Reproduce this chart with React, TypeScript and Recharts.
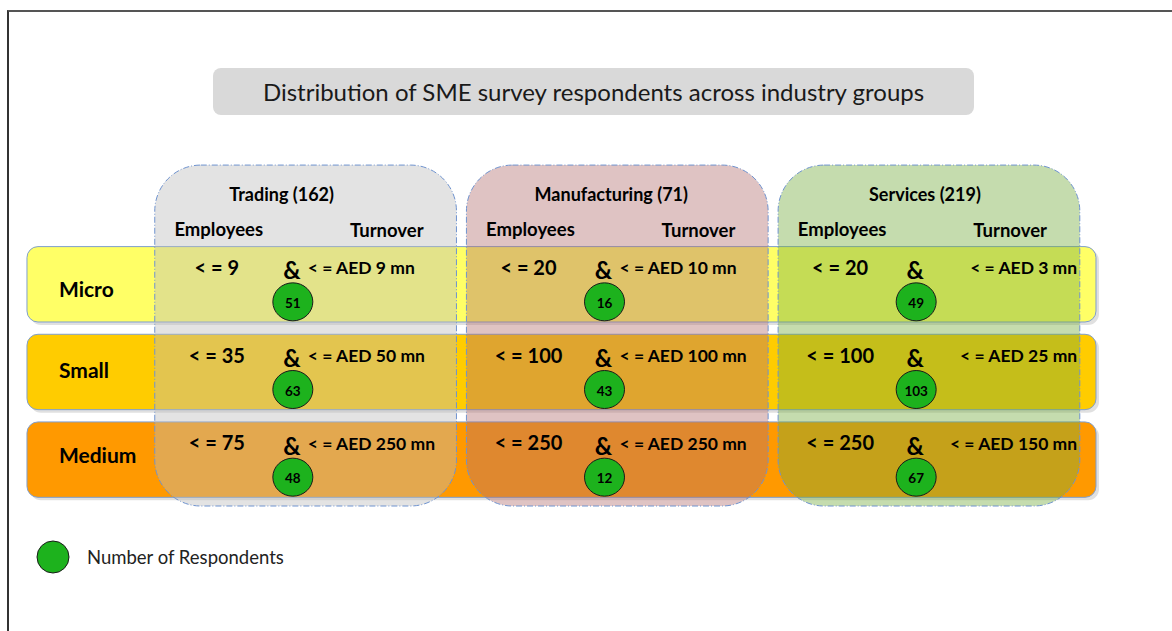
import React from 'react';
import { ComposedChart, XAxis, YAxis, Scatter, ReferenceArea, Legend } from 'recharts';

const industries = ['Trading', 'Manufacturing', 'Services'];
const industryTotals = [162, 71, 219];
const sizeClasses = ['Micro', 'Small', 'Medium'];

const tradingEmployees = [9, 35, 75];
const manufacturingEmployees = [20, 100, 250];
const servicesEmployees = [20, 100, 250];

const tradingTurnover = [9, 50, 250];
const manufacturingTurnover = [10, 100, 250];
const servicesTurnover = [3, 25, 150];

const tradingRespondents = [51, 63, 48];
const manufacturingRespondents = [16, 43, 12];
const servicesRespondents = [49, 103, 67];

const employeesByIndustry = [tradingEmployees, manufacturingEmployees, servicesEmployees];
const turnoverByIndustry = [tradingTurnover, manufacturingTurnover, servicesTurnover];
const respondentsByIndustry = [tradingRespondents, manufacturingRespondents, servicesRespondents];

const ROW_COLORS = ['#ffff66', '#ffcc00', '#ff9900'];
const COLUMN_COLORS = ['#bdbdbd', '#b37070', '#75ac3e'];
const NAME_SHIFT = [-24, -6, -4];
const LABEL_SHIFT = [4, -2, -5];
const FONT = 'Lato, "Open Sans", sans-serif';

const points = industries.flatMap((name, i) =>
  sizeClasses.map((size, j) => ({
    x: i,
    y: j,
    industry: name,
    size,
    respondents: respondentsByIndustry[i][j],
    employees: employeesByIndustry[i][j],
    turnover: turnoverByIndustry[i][j],
  }))
);

const Bubble = (props: any) => {
  const { cx, cy, payload } = props;
  const right = payload.x === 2;
  return (
    <g fontFamily={FONT} fontWeight="bold" fill="#000">
      <text x={cx - 76} y={cy - 35} textAnchor="middle" dominantBaseline="central" fontSize={20}>
        {`< = ${payload.employees}`}
      </text>
      <text x={cx - 1} y={cy - 32} textAnchor="middle" dominantBaseline="central" fontSize={24}>
        &amp;
      </text>
      <text
        x={right ? cx + 161 : cx + 15}
        y={cy - 34}
        textAnchor={right ? 'end' : 'start'}
        dominantBaseline="central"
        fontSize={17.5}
      >
        {`< = AED ${payload.turnover} mn`}
      </text>
      <ellipse cx={cx} cy={cy} rx={20} ry={19} fill="#1db21d" stroke="#1a1a1a" strokeWidth={1} />
      <text x={cx} y={cy + 1} textAnchor="middle" dominantBaseline="central" fontSize={13.5}>
        {payload.respondents}
      </text>
    </g>
  );
};

const rowShape = (j: number) => (p: any) => (
  <g>
    <rect x={p.x + 3} y={p.y + 3} width={p.width} height={p.height} rx={11} fill="#000" fillOpacity={0.12} />
    <rect x={p.x} y={p.y} width={p.width} height={p.height} rx={11} fill={ROW_COLORS[j]} stroke="#7f9fcf" strokeWidth={1} />
    <text
      x={p.x + 32}
      y={p.y + p.height / 2 + LABEL_SHIFT[j]}
      dominantBaseline="central"
      fontFamily={FONT}
      fontWeight="bold"
      fontSize={21}
    >
      {sizeClasses[j]}
    </text>
  </g>
);

const columnShape = (i: number) => (p: any) => (
  <g fontFamily={FONT} fontWeight="bold">
    <rect
      x={p.x}
      y={p.y}
      width={p.width}
      height={p.height}
      rx={46}
      fill={COLUMN_COLORS[i]}
      fillOpacity={0.42}
      stroke="#6f93cf"
      strokeWidth={1}
      strokeDasharray="6 2 1 2"
    />
    <text x={p.x + p.width / 2 + NAME_SHIFT[i]} y={p.y + 29} textAnchor="middle" dominantBaseline="central" fontSize={18}>
      {`${industries[i]} (${industryTotals[i]})`}
    </text>
    <text x={p.x + 64} y={p.y + 64} textAnchor="middle" dominantBaseline="central" fontSize={18.5}>
      Employees
    </text>
    <text x={p.x + 232} y={p.y + 65} textAnchor="middle" dominantBaseline="central" fontSize={18.5}>
      Turnover
    </text>
  </g>
);

const LegendContent = () => (
  <div style={{ display: 'flex', alignItems: 'center', fontFamily: FONT, fontSize: 18.5, color: '#222' }}>
    <svg width={36} height={36}>
      <ellipse cx={18} cy={18} rx={16} ry={16} fill="#1db21d" stroke="#1a1a1a" strokeWidth={1} />
    </svg>
    <span style={{ marginLeft: 16 }}>Number of Respondents</span>
  </div>
);

export default function App() {
  return (
    <div style={{ position: 'absolute', left: 0, top: 0, width: 1172, height: 631, background: '#fff' }}>
      <div
        style={{
          position: 'absolute',
          left: 7,
          top: 10,
          right: 0,
          bottom: 0,
          borderTop: '2px solid #555',
          borderLeft: '2px solid #333',
        }}
      />
      <div
        style={{
          position: 'absolute',
          left: 213,
          top: 68,
          width: 761,
          height: 47,
          background: '#d9d9d9',
          borderRadius: 8,
          display: 'flex',
          alignItems: 'center',
          justifyContent: 'center',
          fontFamily: FONT,
          fontSize: 24,
          color: '#1a1a1a',
          zIndex: 2,
        }}
      >
        Distribution of SME survey respondents across industry groups
      </div>
      <ComposedChart
        width={1172}
        height={631}
        data={points}
        margin={{ top: 258, right: 100, bottom: 110, left: 137 }}
      >
        <XAxis type="number" dataKey="x" domain={[-0.5, 2.5]} hide />
        <YAxis type="number" dataKey="y" domain={[-0.5, 2.5]} reversed hide />
        {sizeClasses.map((s, j) => (
          <ReferenceArea
            key={s}
            x1={-0.853}
            x2={2.577}
            y1={j - 0.63}
            y2={j + 0.23}
            ifOverflow="visible"
            shape={rowShape(j)}
          />
        ))}
        {industries.map((name, i) => (
          <ReferenceArea
            key={name}
            x1={i - 0.443}
            x2={i + 0.525}
            y1={-1.56}
            y2={2.329}
            ifOverflow="visible"
            shape={columnShape(i)}
          />
        ))}
        <Scatter data={points} dataKey="y" shape={Bubble} isAnimationActive={false} />
        <Legend
          layout="horizontal"
          verticalAlign="middle"
          align="center"
          content={LegendContent}
          wrapperStyle={{ position: 'absolute', left: 35, top: 539, width: 'auto' }}
        />
      </ComposedChart>
    </div>
  );
}
